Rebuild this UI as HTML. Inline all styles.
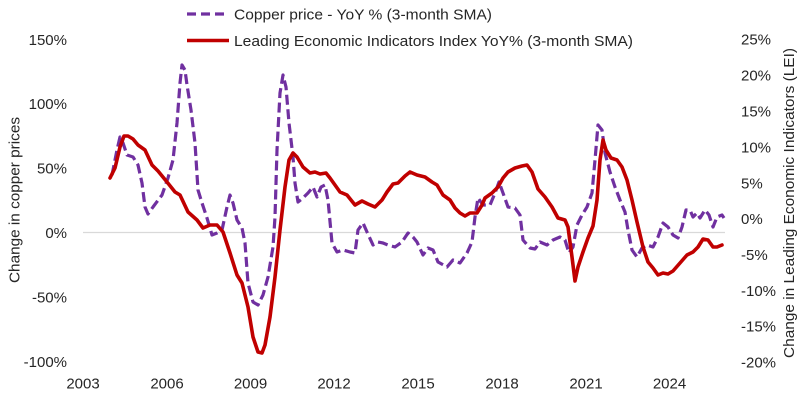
<!DOCTYPE html>
<html>
<head>
<meta charset="utf-8">
<style>
html,body{margin:0;padding:0;background:#fff;}
svg{display:block;}
text{font-family:"Liberation Sans",Arial,sans-serif;fill:#262626;}
</style>
</head>
<body>
<svg width="800" height="400" viewBox="0 0 800 400" xmlns="http://www.w3.org/2000/svg">
<rect width="800" height="400" fill="#fff"/>
<!-- zero gridline -->
<line x1="83" y1="232.5" x2="725" y2="232.5" stroke="#d9d9d9" stroke-width="1.2"/>

<!-- left axis labels -->
<g font-size="15" text-anchor="end">
<text x="67" y="45">150%</text>
<text x="67" y="109">100%</text>
<text x="67" y="173.5">50%</text>
<text x="67" y="238">0%</text>
<text x="67" y="302.5">-50%</text>
<text x="67" y="367">-100%</text>
</g>
<!-- right axis labels -->
<g font-size="15" text-anchor="start">
<text x="741" y="44.5">25%</text>
<text x="741" y="80.5">20%</text>
<text x="741" y="116.5">15%</text>
<text x="741" y="152.5">10%</text>
<text x="741" y="188.5">5%</text>
<text x="741" y="224">0%</text>
<text x="741" y="260">-5%</text>
<text x="741" y="296">-10%</text>
<text x="741" y="331.5">-15%</text>
<text x="741" y="367.5">-20%</text>
</g>
<!-- x axis labels -->
<g font-size="15" text-anchor="middle">
<text x="83" y="388.5">2003</text>
<text x="167" y="388.5">2006</text>
<text x="250.5" y="388.5">2009</text>
<text x="334" y="388.5">2012</text>
<text x="418" y="388.5">2015</text>
<text x="502" y="388.5">2018</text>
<text x="586" y="388.5">2021</text>
<text x="669.5" y="388.5">2024</text>
</g>
<!-- axis titles -->
<text font-size="15" text-anchor="middle" transform="translate(19.5,200) rotate(-90)" textLength="166" lengthAdjust="spacingAndGlyphs">Change in copper prices</text>
<text font-size="15" text-anchor="middle" transform="translate(794,203) rotate(-90)" textLength="310" lengthAdjust="spacingAndGlyphs">Change in Leading Economic Indicators (LEI)</text>

<!-- legend -->
<line x1="187" y1="14" x2="229" y2="14" stroke="#7030a0" stroke-width="3.2" stroke-dasharray="9 5"/>
<text x="234" y="19.5" font-size="15" textLength="258" lengthAdjust="spacingAndGlyphs">Copper price - YoY % (3-month SMA)</text>
<line x1="187" y1="40.5" x2="229" y2="40.5" stroke="#c00000" stroke-width="3.5"/>
<text x="234" y="46" font-size="15" textLength="399" lengthAdjust="spacingAndGlyphs">Leading Economic Indicators Index YoY% (3-month SMA)</text>

<!-- Copper purple dashed series -->
<polyline fill="none" stroke="#7030a0" stroke-width="3.2" stroke-linejoin="round" stroke-dasharray="10 4.5"
points="112,175 117,150 120,137 123,143 127,155 133,157 138,165 142,183 145,207 148,214 153,207 162,195 168,178 173,160 177,123 180,83 182,65 185,70 187,85 191,110 195,143 198,190 202,203 207,218 212,235 217,233 222,230 227,207 230,195 233,203 237,220 242,228 245,243 248,283 253,302 258,305 263,295 268,277 273,247 275,217 277,150 280,93 283,75 286,87 289,123 293,157 295,183 298,202 303,198 308,193 313,187 317,197 321,187 325,185 328,200 332,243 337,252 343,250 350,252 355,253 358,230 363,223 367,232 373,245 378,242 383,243 388,245 395,247 402,242 408,233 413,237 417,242 423,255 428,248 433,250 438,262 447,267 453,260 460,263 467,253 472,242 475,217 478,198 483,205 490,205 495,193 499,182 503,193 508,207 515,208 520,215 523,240 530,248 535,249 540,242 547,245 553,240 560,237 565,240 569,253 573,247 577,225 582,215 587,207 592,193 595,160 598,125 602,130 605,153 610,172 615,187 620,200 625,212 628,230 632,250 637,257 642,248 647,245 653,247 658,237 663,223 668,227 673,235 678,238 682,227 686,210 690,210 693,217 697,213 700,218 705,210 709,215 713,227 717,217 722,215 724,218"/>

<!-- LEI red series (secondary axis, drawn on top) -->
<polyline fill="none" stroke="#c00000" stroke-width="3.6" stroke-linejoin="round" stroke-linecap="round"
points="110,178 115,168 120,147 124,136 128,136 133,139 138,145 145,150 152,165 158,171 167,182 175,192 180,195 188,212 197,220 203,228 210,225 217,225 223,232 230,253 237,275 242,283 248,307 253,337 258,352 262,353 265,345 270,317 275,277 280,230 285,187 289,160 293,153 297,157 303,167 310,173 315,172 320,174 326,173 330,178 335,185 340,192 347,195 355,205 362,201 368,204 375,207 382,200 387,192 393,184 398,183 405,176 410,172 417,175 425,177 432,182 437,185 443,195 450,200 455,208 460,213 465,216 470,213 477,213 482,205 485,198 492,193 498,187 503,178 508,172 515,168 522,166 527,165 532,172 538,189 545,197 552,207 558,218 565,220 568,227 572,257 575,281 578,267 583,252 588,238 593,226 597,200 600,160 603,140 606,150 611,158 617,160 622,167 627,180 632,200 637,222 643,247 648,262 653,268 658,275 663,273 668,274 673,271 680,263 687,255 693,252 698,247 703,239 708,240 713,247 717,247 722,245"/>
</svg>
</body>
</html>
